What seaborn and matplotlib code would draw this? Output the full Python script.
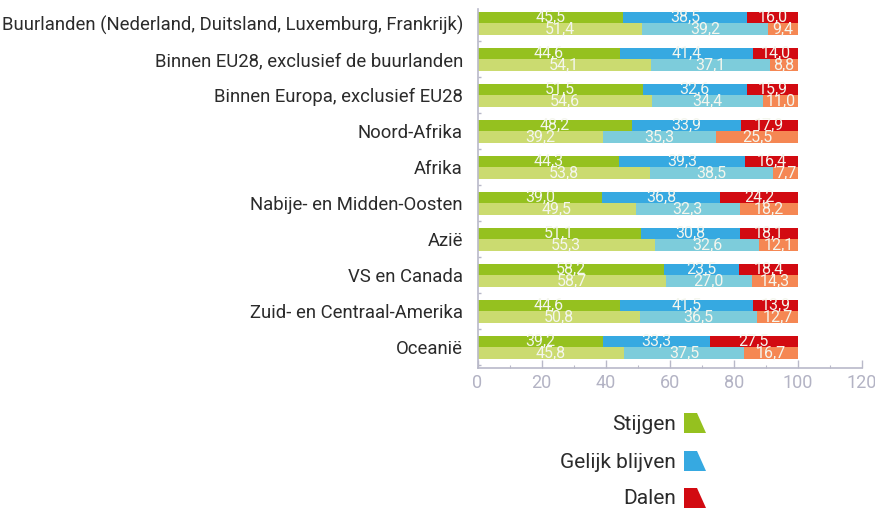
import matplotlib
matplotlib.use('Agg')
import matplotlib.pyplot as plt
from matplotlib.patches import Polygon
import numpy as np
import pandas as pd
import seaborn as sns

regions = ['Buurlanden (Nederland, Duitsland, Luxemburg, Frankrijk)',
           'Binnen EU28, exclusief de buurlanden',
           'Binnen Europa, exclusief EU28',
           'Noord-Afrika', 'Afrika', 'Nabije- en Midden-Oosten', 'Azië',
           'VS en Canada', 'Zuid- en Centraal-Amerika', 'Oceanië']
stijgen_a = [45.5, 44.6, 51.5, 48.2, 44.3, 39.0, 51.1, 58.2, 44.6, 39.2]
gelijk_a = [38.5, 41.4, 32.6, 33.9, 39.3, 36.8, 30.8, 23.5, 41.5, 33.3]
dalen_a = [16.0, 14.0, 15.9, 17.9, 16.4, 24.2, 18.1, 18.4, 13.9, 27.5]
stijgen_b = [51.4, 54.1, 54.6, 39.2, 53.8, 49.5, 55.3, 58.7, 50.8, 45.8]
gelijk_b = [39.2, 37.1, 34.4, 35.3, 38.5, 32.3, 32.6, 27.0, 36.5, 37.5]
dalen_b = [9.4, 8.8, 11.0, 25.5, 7.7, 18.2, 12.1, 14.3, 12.7, 16.7]
legend_labels = ['Stijgen', 'Gelijk blijven', 'Dalen']

dark = ['#95c11f', '#36a9e1', '#d20a11']
light = ['#cbdb70', '#7dccdb', '#f58753']
axis_col = '#b9b9c9'
text_col = '#2b2b2b'

sns.set_theme(style='white')
plt.rcParams['font.family'] = ['Roboto', 'DejaVu Sans']

W, H = 875, 509
fig = plt.figure(figsize=(W / 100, H / 100), dpi=100)
ax = fig.add_axes([477.5 / W, 1 - 368 / H, (862 - 477.5) / W, (368 - 9) / H])

df = pd.DataFrame({'region': regions * 2,
                   'wave': ['a'] * 10 + ['b'] * 10,
                   's': stijgen_a + stijgen_b,
                   'g': gelijk_a + gelijk_b,
                   'd': dalen_a + dalen_b})
df['c1'] = df['s']
df['c2'] = df['s'] + df['g']
df['c3'] = df['c2'] + df['d']

# stacked by overpainting cumulative bars, longest first
for col, i in [('c3', 2), ('c2', 1), ('c1', 0)]:
    sns.barplot(data=df, x=col, y='region', hue='wave', order=regions,
                palette=[dark[i], light[i]], width=0.66, gap=0, dodge=True,
                legend=False, saturation=1, linewidth=0, ax=ax)

for n in range(len(regions)):
    for offs, row in [(-0.165, df.iloc[n]), (0.165, df.iloc[n + 10])]:
        lefts = [0, row['c1'], row['c2']]
        for l, v in zip(lefts, [row['s'], row['g'], row['d']]):
            ax.text(l + v / 2, n + offs, f'{v:.1f}'.replace('.', ','), color='#f4f6ee',
                    ha='center', va='center', fontsize=11.5)

ax.set_xlim(0, 120)
ax.set_ylim(9.57, -0.4)
ax.set_xlabel('')
ax.set_ylabel('')
ax.set_xticks(np.arange(0, 121, 20))
ax.set_xticks(np.arange(10, 120, 20), minor=True)
ax.set_yticks(np.arange(10) + 0.5, minor=True)
ax.set_yticks(range(10), regions)
sns.despine(ax=ax)
for s in ['left', 'bottom']:
    ax.spines[s].set_color(axis_col)
    ax.spines[s].set_linewidth(1.2)
ax.tick_params(axis='x', which='major', direction='in', length=6, color=axis_col,
               width=1, labelcolor='#b3b3c4', labelsize=13, pad=4, bottom=True)
ax.tick_params(axis='x', which='minor', direction='in', length=2, color=axis_col, width=0.8, bottom=True)
ax.tick_params(axis='y', which='major', length=0, labelsize=13.3, labelcolor=text_col, pad=10.5)
ax.tick_params(axis='y', which='minor', length=2, direction='in', color=axis_col, left=True)

# legend: text on the left, small ramp shape on the right
for lab, col, y in zip(legend_labels, dark, [424, 462, 499]):
    fig.text(676 / W, 1 - y / H, lab, ha='right', va='center', fontsize=15,
             color=text_col)
    pts = [(684, y + 9), (684, y - 11), (697, y - 11), (706, y + 9)]
    fig.add_artist(Polygon([(px / W, 1 - py / H) for px, py in pts], closed=True,
                           transform=fig.transFigure, facecolor=col, edgecolor='none'))

fig.savefig('out.png', dpi=100)
